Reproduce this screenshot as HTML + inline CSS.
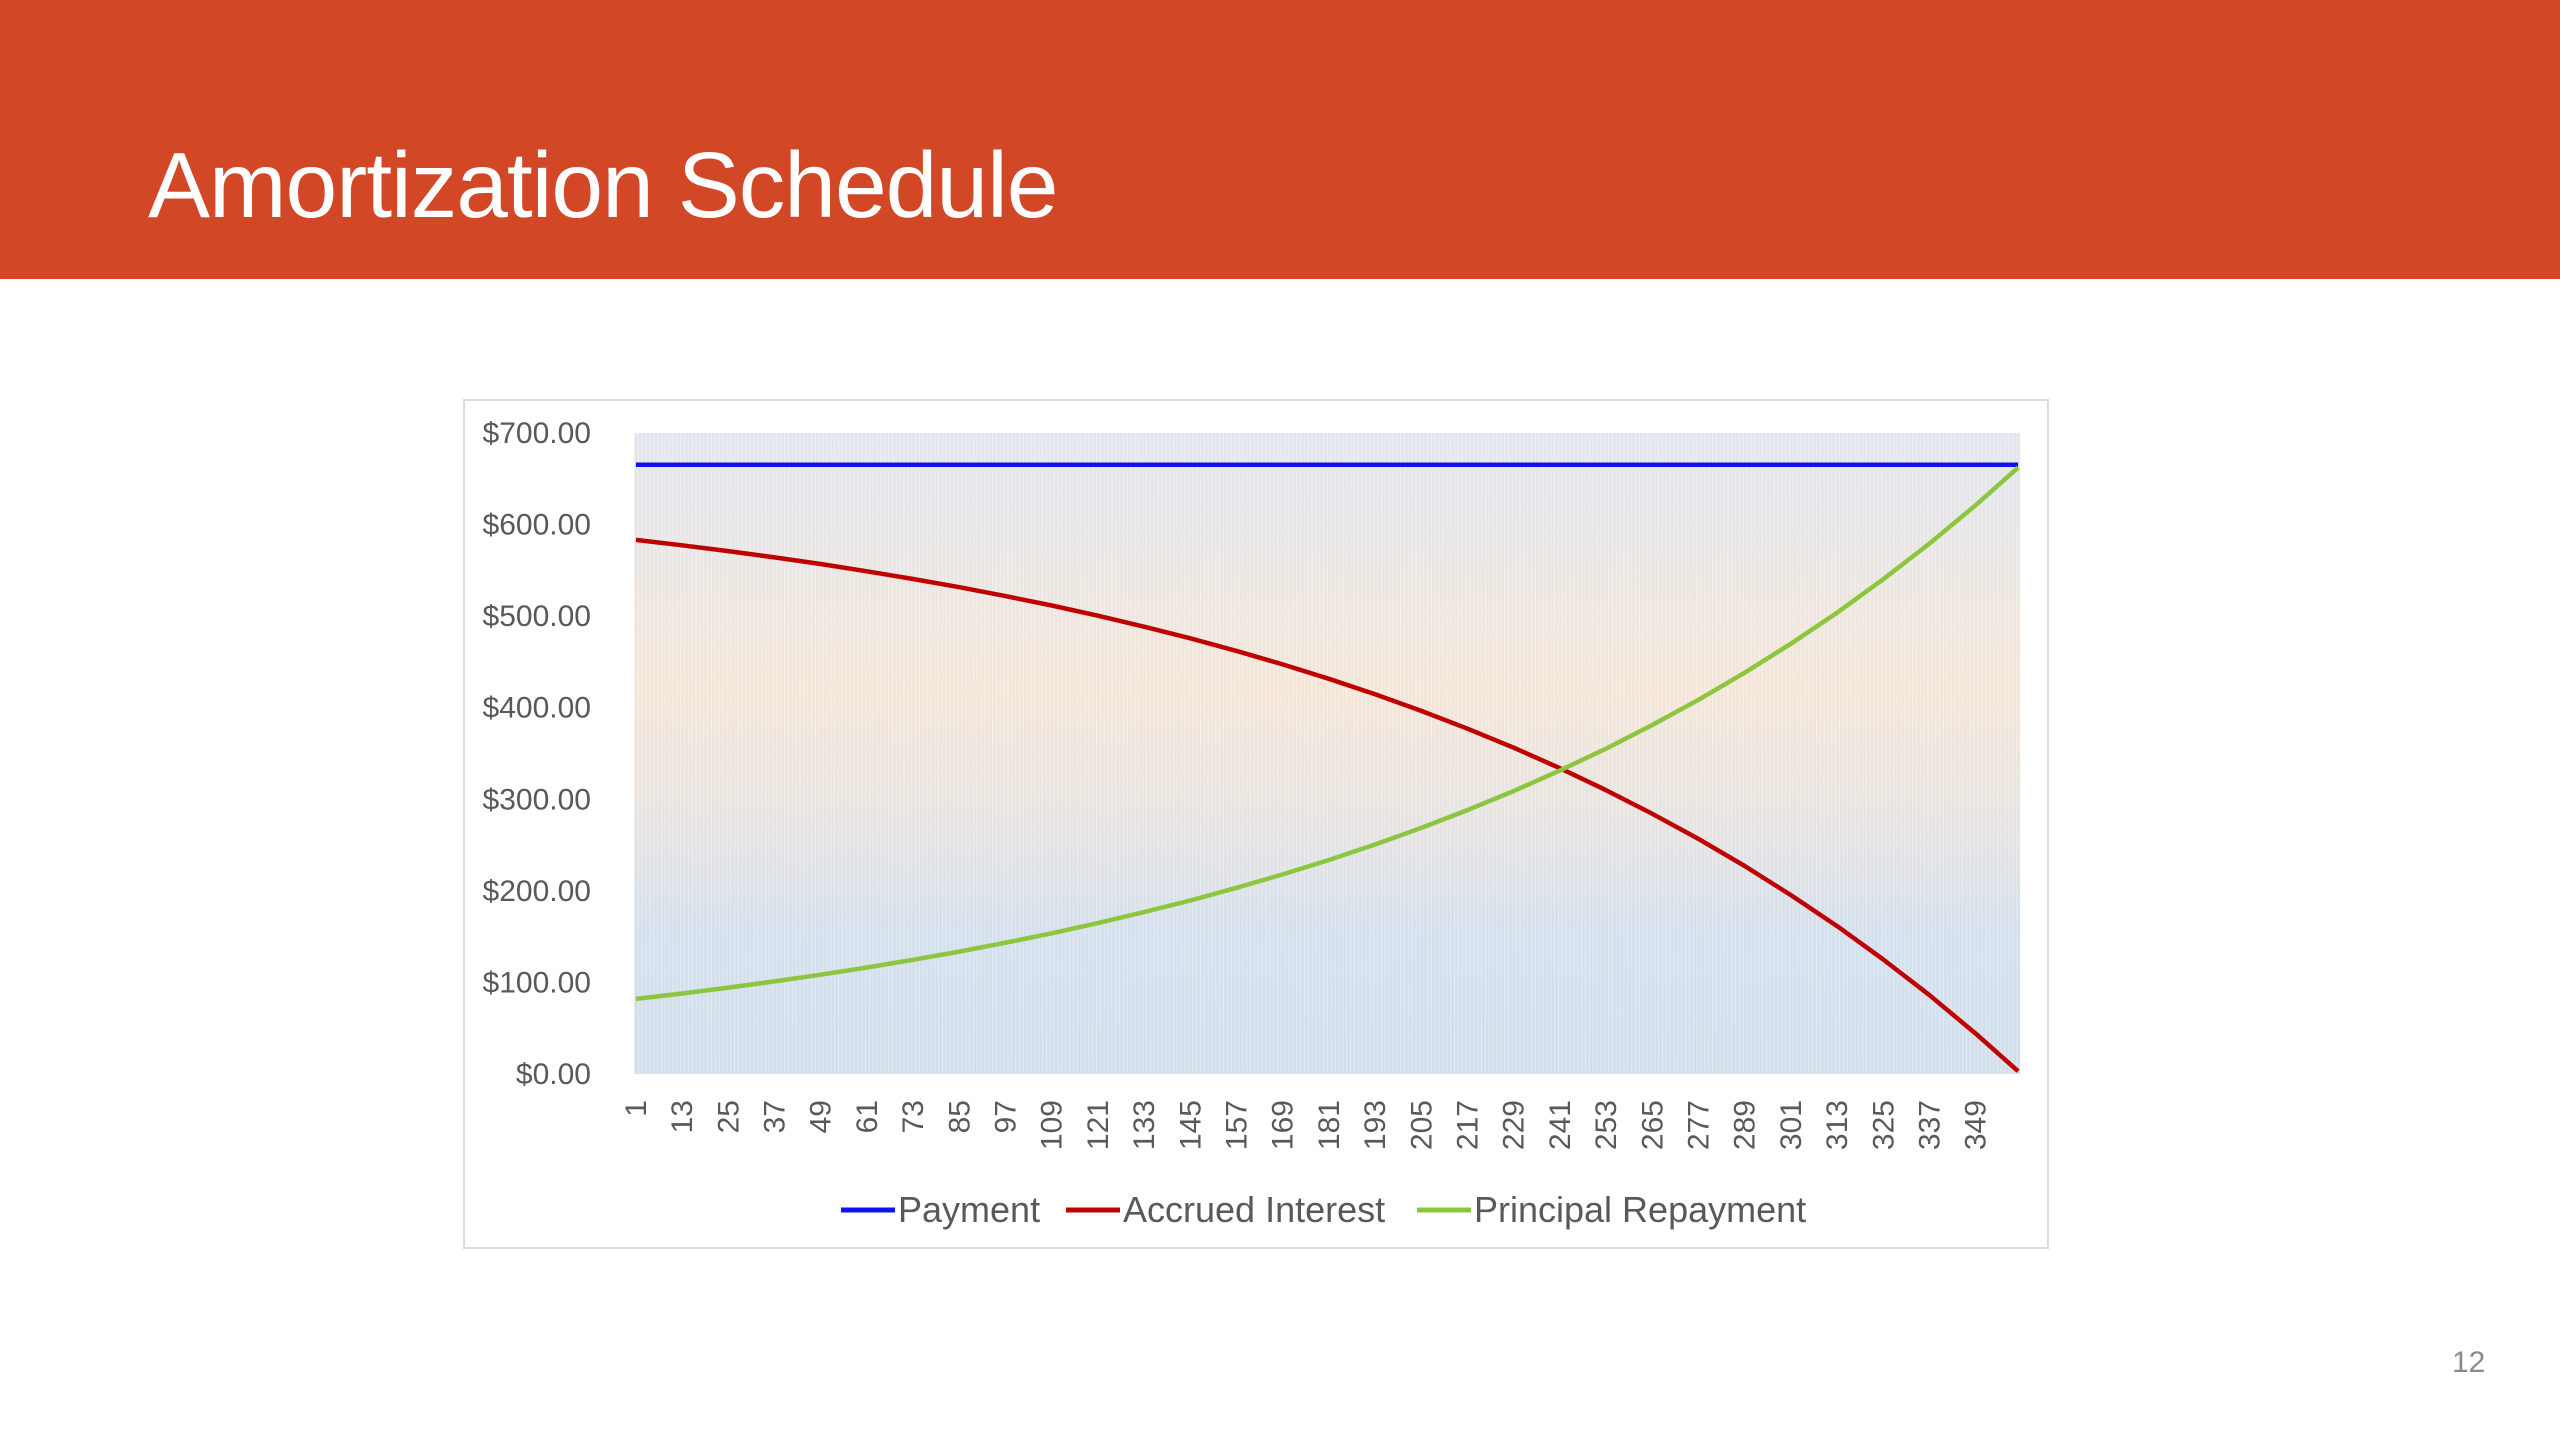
<!DOCTYPE html>
<html><head><meta charset="utf-8"><style>
html,body{margin:0;padding:0;background:#fff;width:2560px;height:1440px;overflow:hidden;font-family:"Liberation Sans",sans-serif}
#hdr{position:absolute;left:0;top:0;width:2560px;height:279px;background:#d24726}
#title{position:absolute;left:148px;top:132px;font-size:93px;color:#fff;font-weight:300;letter-spacing:-1px}
#num{position:absolute;left:2452px;top:1346px;font-size:30px;color:#8a8a8a}
</style></head><body>
<div id="hdr"><div id="title">Amortization Schedule</div></div>
<div id="num">12</div>
<svg id="chart" width="2560" height="1440" style="position:absolute;left:0;top:0">
<defs>
<linearGradient id="bg" x1="0" y1="0" x2="0" y2="1">
<stop offset="0" stop-color="#e2e7ee"/><stop offset="0.12" stop-color="#e6e6e8"/>
<stop offset="0.4" stop-color="#f4e6d8"/><stop offset="0.62" stop-color="#e6e3e2"/>
<stop offset="0.78" stop-color="#d4e0ec"/><stop offset="1" stop-color="#d2dfeb"/>
</linearGradient>
<pattern id="stripes" width="3.85" height="10" patternUnits="userSpaceOnUse" x="634">
<rect x="0" y="0" width="1" height="10" fill="#ffffff" fill-opacity="0.35"/>
</pattern>
</defs>
<rect x="464" y="400" width="1584" height="848" fill="#fff" stroke="#dcdcdc" stroke-width="2"/>
<rect x="634" y="433" width="1386" height="641" fill="url(#bg)"/>
<rect x="634" y="433" width="1386" height="641" fill="url(#stripes)"/>
<g id="yaxis"></g><g id="xaxis"></g><g id="series"></g><g id="legend"></g>
</svg>
<script>
const months=[1,13,25,37,49,61,73,85,97,109,121,133,145,157,169,181,193,205,217,229,241,253,265,277,289,301,313,325,337,349,360];
const payment=[665.3,665.3,665.3,665.3,665.3,665.3,665.3,665.3,665.3,665.3,665.3,665.3,665.3,665.3,665.3,665.3,665.3,665.3,665.3,665.3,665.3,665.3,665.3,665.3,665.3,665.3,665.3,665.3,665.3,665.3,665.3];
const interest=[583.3,577.4,571.0,564.2,556.9,549.0,540.6,531.6,521.9,511.6,500.5,488.5,475.8,462.0,447.3,431.6,414.7,396.5,377.1,356.3,333.9,309.9,284.2,256.7,227.1,195.4,161.5,125.0,86.0,44.1,3.1];
const principal=[82.0,87.9,94.3,101.1,108.4,116.3,124.7,133.7,143.4,153.7,164.8,176.8,189.5,203.3,218.0,233.7,250.6,268.8,288.2,309.0,331.4,355.4,381.1,408.6,438.2,469.9,503.8,540.3,579.3,621.2,662.2];
const yTicks=[0,100,200,300,400,500,600,700];
const xTickLabels=[1,13,25,37,49,61,73,85,97,109,121,133,145,157,169,181,193,205,217,229,241,253,265,277,289,301,313,325,337,349];
const NS="http://www.w3.org/2000/svg";
const X0=634,W=1386,N=360,Y0=1074,H=641,YMAX=700;
function xs(m){return X0+(m-0.5)*W/N;}
function ys(v){return Y0-v/YMAX*H;}
function mk(tag,attrs,parent){const e=document.createElementNS(NS,tag);for(const k in attrs)e.setAttribute(k,attrs[k]);parent.appendChild(e);return e;}
const ya=document.getElementById('yaxis');
yTicks.forEach(t=>{const e=mk('text',{x:591,y:ys(t)+10,'text-anchor':'end','font-size':30,fill:'#595959'},ya);


e.textContent='$'+t.toFixed(2);});
const xa=document.getElementById('xaxis');
xTickLabels.forEach(m=>{const x=xs(m)+10,y=1100;const e=mk('text',{x:x,y:y,transform:'rotate(-90 '+x+' '+y+')','text-anchor':'end','font-size':30,fill:'#595959'},xa);


e.textContent=m;});
const sg=document.getElementById('series');
function line(vals,color,name){const d=vals.map((v,i)=>(i?'L':'M')+xs(months[i]).toFixed(1)+' '+ys(v).toFixed(1)).join(' ');
const p=mk('path',{d:d,fill:'none',stroke:color,'stroke-width':4.5,'stroke-linejoin':'round'},sg);

}
line(payment,'#1010f0','payment-line');
line(interest,'#c00000','accrued-interest-line');
line(principal,'#8cc63f','principal-repayment-line');
const lg=document.getElementById('legend');
[['Payment','#1010f0',841,'legend-payment'],['Accrued Interest','#c00000',1066,'legend-accrued-interest'],['Principal Repayment','#8cc63f',1417,'legend-principal-repayment']].forEach(([t,c,x,n])=>{
const g=mk('g',{},lg);


mk('line',{x1:x,y1:1210,x2:x+54,y2:1210,stroke:c,'stroke-width':5},g);
const e=mk('text',{x:x+57,y:1222,'font-size':36,fill:'#595959'},g);e.textContent=t;});
</script>
</body></html>
